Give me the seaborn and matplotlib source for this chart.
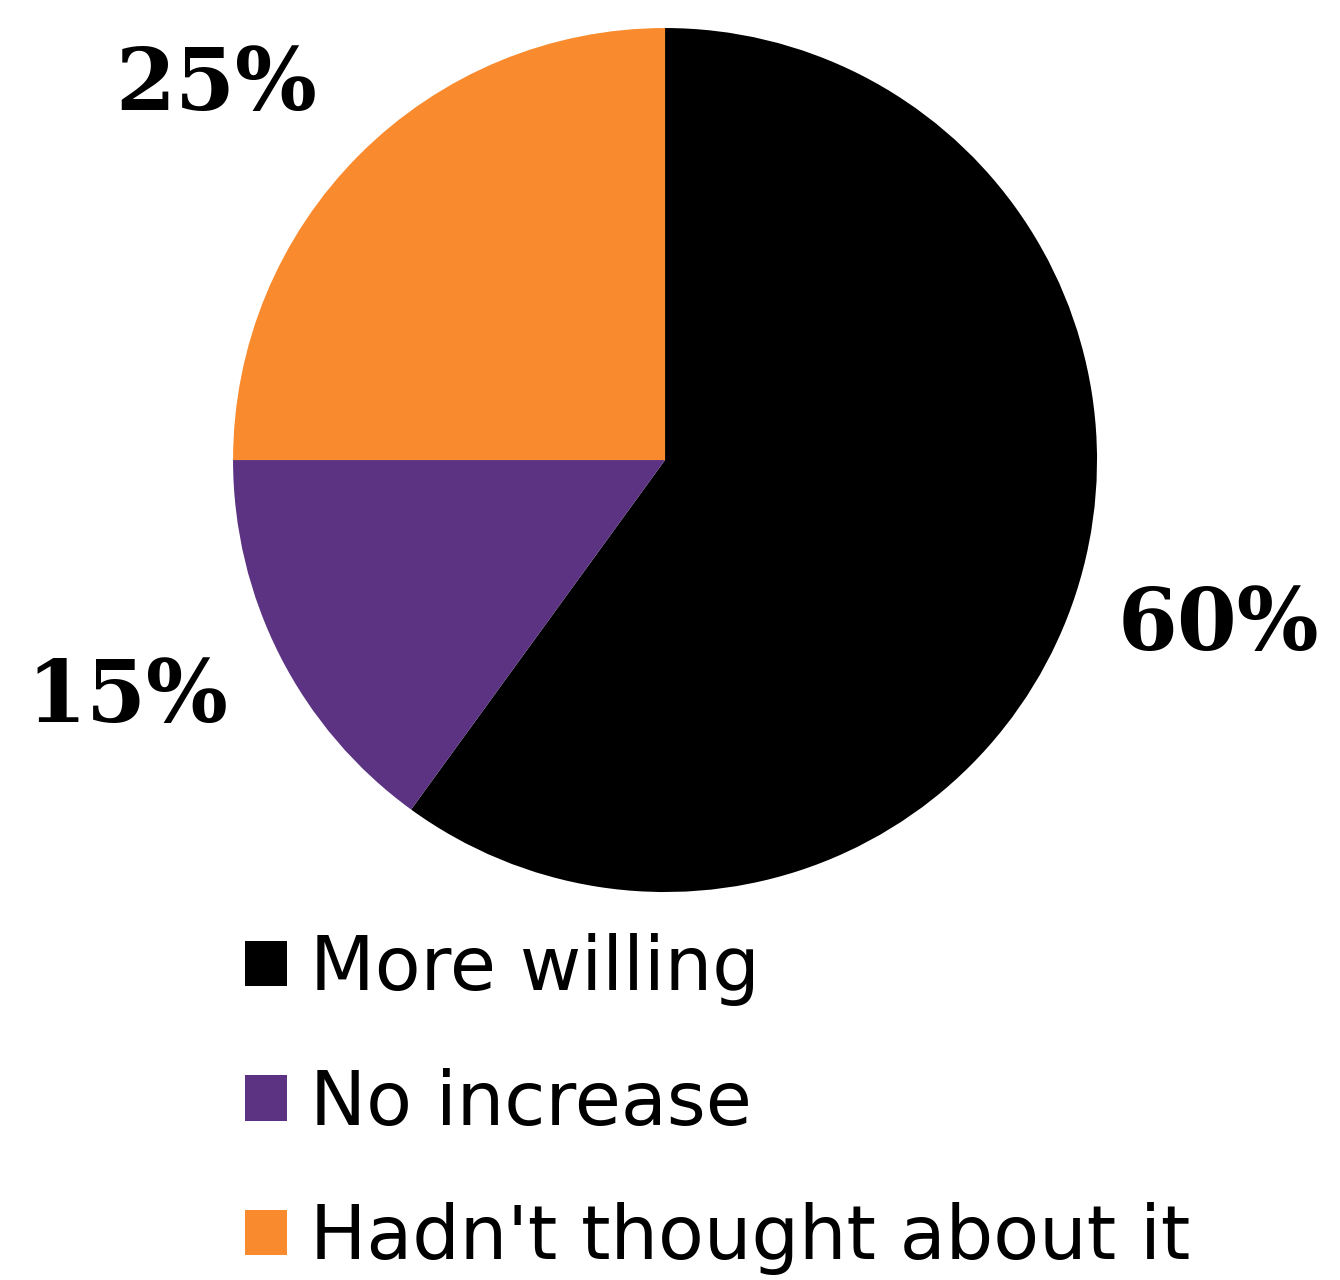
import matplotlib
matplotlib.use("Agg")
import matplotlib.pyplot as plt
import seaborn as sns

sns.set_theme(style="white")
plt.rcParams['font.family'] = ['DejaVu Sans']
plt.rcParams['text.color'] = 'black'

categories = ["More willing", "No increase", "Hadn't thought about it"]
values = [60, 15, 25]
pct_labels = ["60%", "15%", "25%"]
colors = ["#000000", "#5c3382", "#f98b2e"]

fig = plt.figure(figsize=(13.4, 12.8), dpi=100)
fig.patch.set_facecolor("white")
ax = fig.add_axes([0.1739, 0.3031, 0.6448, 0.675])
wedges, _ = ax.pie(values, colors=colors, startangle=90, counterclock=False,
                   radius=1.0, wedgeprops=dict(linewidth=0))
ax.set_xlim(-1, 1)
ax.set_ylim(-1, 1)
ax.set_aspect("equal")
ax.axis("off")

label_pos = [(1.28, -0.385), (-1.245, -0.55), (-1.04, 0.865)]
for (x, y), t in zip(label_pos, pct_labels):
    ax.text(x, y, t, ha="center", va="center", fontsize=62, fontweight="bold",
            color="black", family=["DejaVu Serif"], clip_on=False)

leg = fig.legend(wedges, categories, loc="upper left", bbox_to_anchor=(0.183, 0.271),
                 frameon=False, fontsize=54, handlelength=0.56, handleheight=0.56,
                 handletextpad=0.3, labelspacing=0.82, borderpad=0, borderaxespad=0,
                 labelcolor="black")

fig.savefig("out.png", dpi=100, facecolor="white")
